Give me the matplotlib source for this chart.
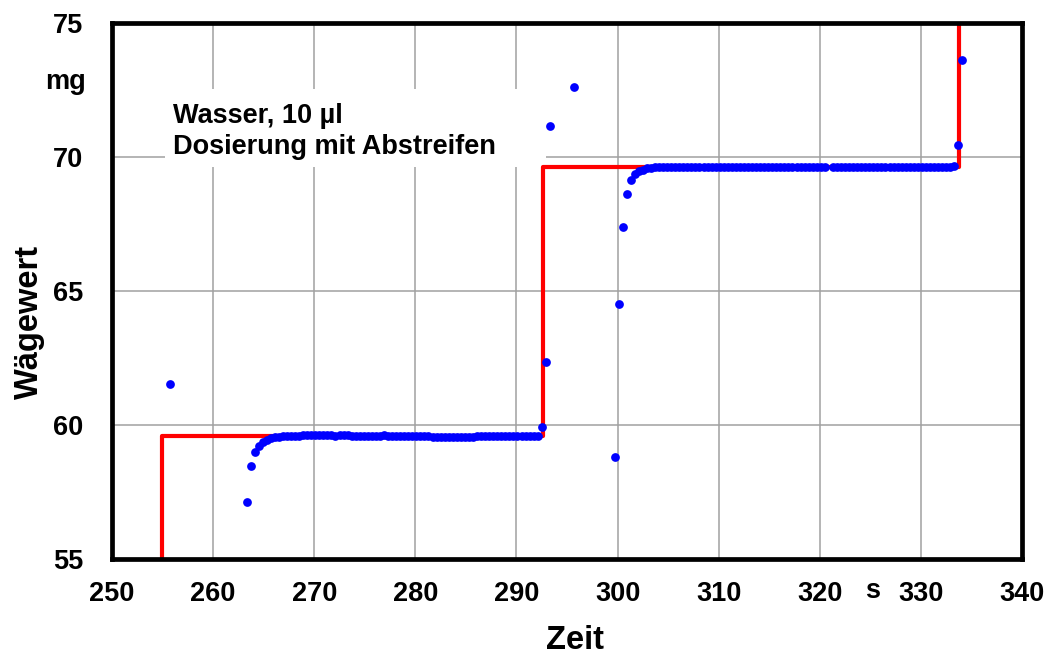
import matplotlib.pyplot as plt
from matplotlib.patches import Rectangle
import numpy as np

plt.rcParams['font.family'] = ['Liberation Sans', 'DejaVu Sans']
plt.rcParams['font.weight'] = 'bold'

# balance log: one reading every 0.4 s starting at t0
t0 = 255.7
dt = 0.4
nan = np.nan

vor_dosierung = [61.53] + [nan] * 18
anstieg_1 = [57.13, 58.47, 58.99, 59.22, 59.36, 59.45, 59.51, 59.55, 59.57]
plateau_1 = [
    59.58, 59.59, 59.60, 59.60, 59.60, 59.61, 59.61, 59.61, 59.61, 59.61,
    59.61, 59.61, 59.61, 59.60, 59.61, 59.61, 59.61, 59.60, 59.60, 59.60,
    59.60, 59.60, 59.60, 59.60, 59.60, 59.61, 59.60, 59.60, 59.60, 59.59,
    59.59, 59.59, 59.59, 59.59, 59.58, 59.58, 59.58, 59.57, 59.57, 59.57,
    59.57, 59.57, 59.57, 59.57, 59.57, 59.57, 59.57, 59.57, 59.58, 59.58,
    59.58, 59.58, 59.58, 59.58, 59.58, 59.58, 59.58, 59.58, 59.58, 59.59,
    59.59, 59.59, 59.59, 59.60,
]
uebergang = [59.94, 62.35, 71.16] + [nan] * 5 + [72.62] + [nan] * 9
anstieg_2 = [58.80, 64.53, 67.38, 68.63, 69.14, 69.35, 69.46, 69.53,
             69.58, 69.60, 69.62]
plateau_2 = [
    69.63, 69.63, 69.63, 69.64, 69.64, 69.64, 69.64, 69.64, 69.64, 69.64,
    69.64, 69.64, 69.64, 69.64, 69.64, 69.64, 69.64, 69.64, 69.64, 69.64,
    69.64, 69.64, 69.64, 69.63, 69.63, 69.63, 69.63, 69.63, 69.63, 69.63,
    69.63, 69.63, 69.63, 69.63, 69.63, 69.63, 69.63, 69.63, 69.63, 69.63,
    69.63, 69.63, nan, 69.63, 69.63, 69.63, 69.63, 69.62, 69.62, 69.62,
    69.62, 69.62, 69.62, 69.61, 69.61, 69.61, 69.61, 69.61, 69.61, 69.61,
    69.61, 69.61, 69.61, 69.61, 69.61, 69.61, 69.61, 69.61, 69.62, 69.62,
    69.62, 69.62, 69.62,
]
ende = [69.68, 70.45, 73.62]

wert = np.array(vor_dosierung + anstieg_1 + plateau_1 + uebergang
                + anstieg_2 + plateau_2 + ende)
zeit = t0 + dt * np.arange(len(wert))

# stable weight levels (red step line)
stufe_zeit = [254.9, 254.9, 292.6, 333.75]
stufe_wert = [54.0, 59.60, 69.63, 77.0]

x_ticks = [250, 260, 270, 280, 290, 300, 310, 320, 330, 340]
y_ticks = [55, 60, 65, 70, 75]

fig = plt.figure(figsize=(10.51, 6.62), dpi=100)
ax = fig.add_axes([0.1066, 0.1556, 0.8658, 0.8097])

ax.set_axisbelow(True)
ax.grid(True, color='#a0a0a0', linewidth=1.1)

# white background behind the annotation
ax.add_patch(Rectangle((255.2, 69.64), 37.7, 2.9, facecolor='white',
                       edgecolor='none', zorder=1.5))
ax.text(256.0, 71.27, 'Wasser, 10 µl', fontsize=19.5, fontweight='bold', zorder=2)
ax.text(256.0, 70.11, 'Dosierung mit Abstreifen', fontsize=19.5,
        fontweight='bold', zorder=2)

ax.plot(stufe_zeit, stufe_wert, drawstyle='steps-post', color='red',
        linewidth=3.0, zorder=3)
ax.plot(zeit, wert, linestyle='none', marker='o', markersize=6.3,
        color='blue', markeredgewidth=0, zorder=4)

ax.set_xlim(250, 340)
ax.set_ylim(55, 75)
ax.set_xticks(x_ticks)
ax.set_yticks(y_ticks)
ax.tick_params(length=0, labelsize=19.5)
ax.tick_params(axis='x', pad=16)
ax.tick_params(axis='y', pad=21)
for label in ax.get_xticklabels() + ax.get_yticklabels():
    label.set_fontweight('bold')
for spine in ax.spines.values():
    spine.set_linewidth(3.4)
    spine.set_zorder(5)

# unit labels and axis titles
fig.text(86 / 1051, 1 - 82 / 662, 'mg', ha='right', va='center',
         fontsize=19.5, fontweight='bold')
fig.text(873 / 1051, 1 - 591 / 662, 's', ha='center', va='center',
         fontsize=19.5, fontweight='bold')
fig.text(29 / 1051, 1 - 322 / 662, 'Wägewert', rotation=90, ha='center',
         va='center', fontsize=23.5, fontweight='bold')
fig.text(575 / 1051, 6 / 662, 'Zeit', ha='center', va='bottom',
         fontsize=23.5, fontweight='bold')

fig.savefig('out.png', dpi=100)
